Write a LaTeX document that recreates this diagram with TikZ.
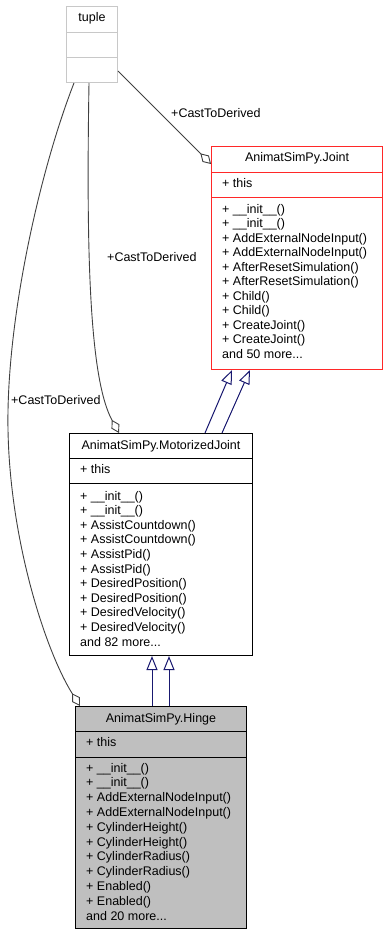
\documentclass[tikz,border=0pt]{standalone}
\usepackage{fontspec}
\setmainfont{Liberation Sans}
\usetikzlibrary{arrows.meta,calc}
\definecolor{jointred}{RGB}{255,40,40}
\definecolor{tuplegray}{RGB}{200,200,200}
\definecolor{hingefill}{RGB}{191,191,191}
\definecolor{navyline}{RGB}{25,25,112}
\definecolor{edgegray}{RGB}{64,64,64}
\begin{document}
\begin{tikzpicture}[x=1pt,y=-1pt,
  font=\fontsize{12.5}{14.6}\selectfont,
  classbox/.style={draw, line width=1pt, inner sep=0pt, anchor=north west},
  divider/.style={line width=1pt},
  member/.style={anchor=base west, inner sep=0pt},
  titletext/.style={anchor=base, inner sep=0pt},
  inherit/.style={draw=navyline, line width=1pt, -{Triangle[open,length=14pt,width=11pt]}},
  agg/.style={draw=edgegray, line width=0.9pt, -{Diamond[open,length=15pt,width=9pt]}},
  edgelabel/.style={anchor=base west, inner sep=0pt}]
\useasboundingbox (0,0) rectangle (387,935);

% tuple
\node[classbox, draw=tuplegray, minimum width=51pt, minimum height=76pt] (tuple) at (66,6) {};
\draw[divider, tuplegray] ([yshift=-26pt]tuple.north west) -- ([yshift=-26pt]tuple.north east);
\draw[divider, tuplegray] ([yshift=-51pt]tuple.north west) -- ([yshift=-51pt]tuple.north east);
\node[titletext] (tuplet) at ($(tuple.north)+(0,15)$) {tuple};

% Joint
\node[classbox, draw=jointred, minimum width=171pt, minimum height=223pt] (joint) at (211,146) {};
\draw[divider, jointred] ([yshift=-26pt]joint.north west) -- ([yshift=-26pt]joint.north east);
\draw[divider, jointred] ([yshift=-51pt]joint.north west) -- ([yshift=-51pt]joint.north east);
\node[titletext] (jointt) at ($(joint.north)+(0,15)$) {AnimatSimPy.Joint};
\node[member] (jointa) at (222,187) {+ this};
\foreach \txt [count=\i from 0] in {{+ \_\_init\_\_()}, {+ \_\_init\_\_()}, {+ AddExternalNodeInput()}, {+ AddExternalNodeInput()}, {+ AfterResetSimulation()}, {+ AfterResetSimulation()}, {+ Child()}, {+ Child()}, {+ CreateJoint()}, {+ CreateJoint()}}
  \node[member] (jointm\i) at (222,{213+14.5*\i}) {\txt};
\node[member] (jointmore) at (222,358) {and 50 more...};

% MotorizedJoint
\node[classbox, draw=black, minimum width=183pt, minimum height=222pt] (mj) at (69,433) {};
\draw[divider] ([yshift=-25pt]mj.north west) -- ([yshift=-25pt]mj.north east);
\draw[divider] ([yshift=-50pt]mj.north west) -- ([yshift=-50pt]mj.north east);
\node[titletext] (mjt) at ($(mj.north)+(0,16)$) {AnimatSimPy.MotorizedJoint};
\node[member] (mja) at (80,473) {+ this};
\foreach \txt [count=\i from 0] in {{+ \_\_init\_\_()}, {+ \_\_init\_\_()}, {+ AssistCountdown()}, {+ AssistCountdown()}, {+ AssistPid()}, {+ AssistPid()}, {+ DesiredPosition()}, {+ DesiredPosition()}, {+ DesiredVelocity()}, {+ DesiredVelocity()}}
  \node[member] (mjm\i) at (80,{500+14.6*\i}) {\txt};
\node[member] (mjmore) at (80,646) {and 82 more...};

% Hinge
\node[classbox, draw=black, fill=hingefill, minimum width=171pt, minimum height=222pt] (hinge) at (75,706) {};
\draw[divider] ([yshift=-25pt]hinge.north west) -- ([yshift=-25pt]hinge.north east);
\draw[divider] ([yshift=-51pt]hinge.north west) -- ([yshift=-51pt]hinge.north east);
\node[titletext] (hinget) at ($(hinge.north)+(0,16)$) {AnimatSimPy.Hinge};
\node[member] (hingea) at (86,746) {+ this};
\foreach \txt [count=\i from 0] in {{+ \_\_init\_\_()}, {+ \_\_init\_\_()}, {+ AddExternalNodeInput()}, {+ AddExternalNodeInput()}, {+ CylinderHeight()}, {+ CylinderHeight()}, {+ CylinderRadius()}, {+ CylinderRadius()}, {+ Enabled()}, {+ Enabled()}}
  \node[member] (hingem\i) at (86,{772+14.8*\i}) {\txt};
\node[member] (hingemore) at (86,920) {and 20 more...};

% inheritance
\draw[inherit] ([xshift=136pt]mj.north west) -- ([xshift=21pt]joint.south west);
\draw[inherit] ([xshift=153pt]mj.north west) -- ([xshift=39pt]joint.south west);
\draw[inherit] ([xshift=77pt]hinge.north west) -- ([xshift=83pt]mj.south west);
\draw[inherit] ([xshift=94pt]hinge.north west) -- ([xshift=100pt]mj.south west);

% aggregation
\draw[agg] ([yshift=12pt]tuple.south east) -- ([yshift=-18pt]joint.north west);
\draw[agg] ([xshift=23pt]tuple.south west) .. controls (86,260) and (90,380) .. ([xshift=50pt]mj.north west);
\draw[agg] ([xshift=8pt]tuple.south west) .. controls (40,170) and (6,320) .. (8,430) .. controls (10,540) and (45,650) .. ([xshift=5pt]hinge.north west);

\node[edgelabel] (l1) at (171,117) {+CastToDerived};
\node[edgelabel] (l2) at (107,261) {+CastToDerived};
\node[edgelabel] (l3) at (11,404) {+CastToDerived};
\end{tikzpicture}
\end{document}
